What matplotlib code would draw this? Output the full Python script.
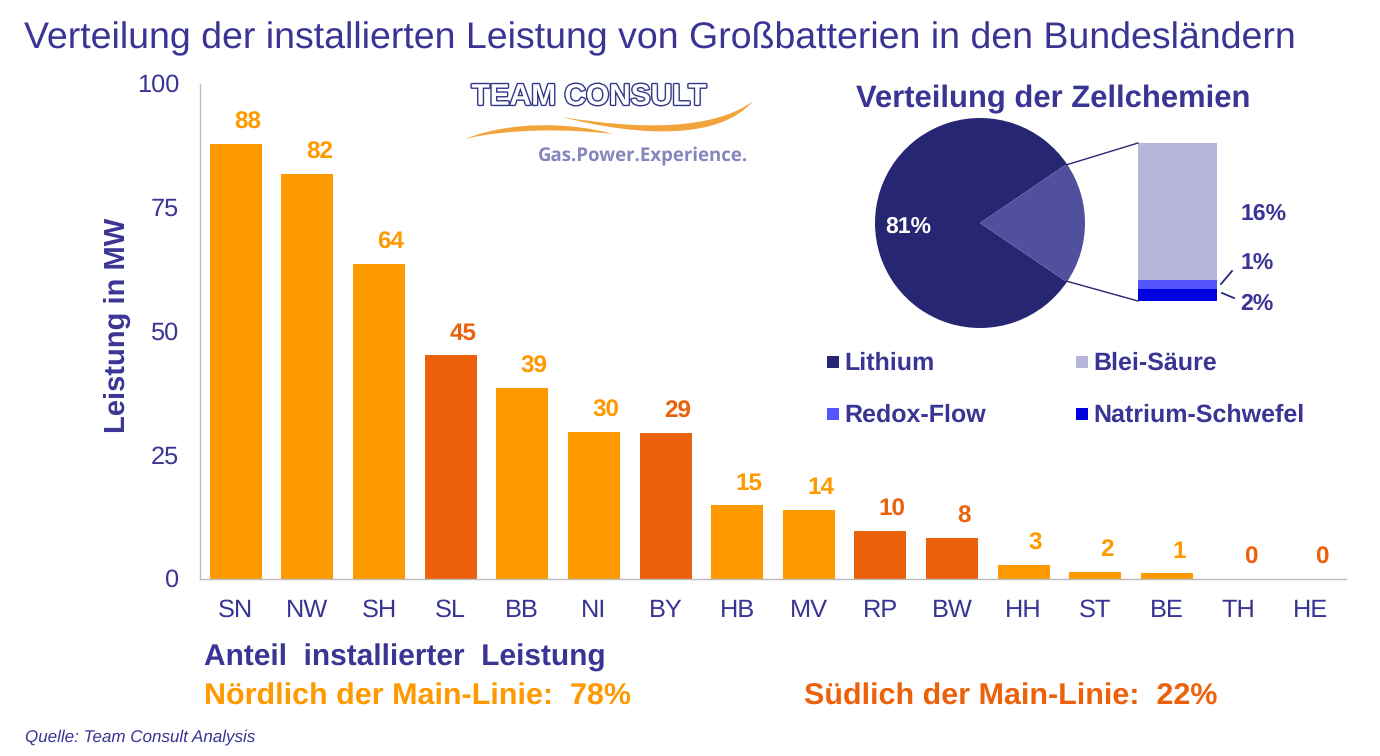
import matplotlib
matplotlib.use("Agg")
import matplotlib.pyplot as plt
import matplotlib.patheffects as pe
from matplotlib.path import Path
from matplotlib.patches import PathPatch
from matplotlib.lines import Line2D
from matplotlib.patches import Rectangle
from matplotlib.transforms import ScaledTranslation

plt.rcParams['font.family'] = ['Liberation Sans', 'DejaVu Sans']
plt.rcParams['text.hinting'] = 'no_hinting'
plt.rcParams['text.hinting_factor'] = 8

W, H = 1380, 756
NAVY = '#3A3594'
DARK = '#262673'
ORANGE = '#FF9900'
RUST = '#EC610B'

states = ['SN', 'NW', 'SH', 'SL', 'BB', 'NI', 'BY', 'HB', 'MV', 'RP', 'BW', 'HH', 'ST', 'BE', 'TH', 'HE']
heights = [87.8, 81.8, 63.7, 45.2, 38.6, 29.6, 29.4, 15.0, 14.0, 9.7, 8.2, 2.8, 1.5, 1.2, 0, 0]
labels = ['88', '82', '64', '45', '39', '30', '29', '15', '14', '10', '8', '3', '2', '1', '0', '0']
south = ['SL', 'BY', 'RP', 'BW', 'TH', 'HE']
y_ticks = [0, 25, 50, 75, 100]

pie_values = [81, 19]
pie_colors = [DARK, '#50509F']
stack_names = ['Natrium-Schwefel', 'Redox-Flow', 'Blei-Säure']
stack_values = [1.5, 1.0, 16.5]
stack_colors = ['#0000E0', '#5555FF', '#B6B5DA']
stack_labels = ['2%', '1%', '16%']


def px_axes(fig, x0, y0, x1, y1):
    return fig.add_axes([x0 / W, 1 - y1 / H, (x1 - x0) / W, (y1 - y0) / H])


fig = plt.figure(figsize=(W / 100, H / 100), dpi=100, facecolor='white')


def ftext(x, y, s, **kw):
    kw.setdefault('va', 'center')
    return fig.text(x / W, 1 - (y + 2) / H, s, **kw)


def fcurve(points, codes, color):
    verts = [(x / W, 1 - y / H) for x, y in points]
    fig.add_artist(PathPatch(Path(verts, codes), transform=fig.transFigure, fc=color, ec='none'))


# main bars
ax = px_axes(fig, 200, 84, 1346, 579)
xs = range(len(states))
colors = [RUST if s in south else ORANGE for s in states]
ax.bar(xs, heights, width=0.725, color=colors, zorder=2)
ax.set_xlim(-0.5, len(states) - 0.5)
ax.set_ylim(0, 100)
ax.set_xticks(list(xs), states)
ax.set_yticks(y_ticks)
ax.tick_params(axis='both', length=0, labelsize=18.3, colors=NAVY)
ax.tick_params(axis='x', pad=14.5)
ax.tick_params(axis='y', pad=15)
lift = ScaledTranslation(0, 1 / 100, fig.dpi_scale_trans)
for lab in ax.get_yticklabels():
    lab.set_transform(lab.get_transform() + lift)
for s in ('top', 'right'):
    ax.spines[s].set_visible(False)
for s in ('left', 'bottom'):
    ax.spines[s].set_color('#BBBBBB')
    ax.spines[s].set_linewidth(1)
ax.set_ylabel('Leistung in MW', fontsize=21, fontweight='bold', color=NAVY, labelpad=0)
ax.yaxis.set_label_coords(-0.06, 0.513)
for x, h, t, c in zip(xs, heights, labels, colors):
    ax.annotate(t, (x, h), xytext=(8.6, 15.5), textcoords='offset points', ha='center', va='center',
                fontsize=17.5, fontweight='bold', color=c, zorder=3)

# title and notes
ftext(24, 37, 'Verteilung der installierten Leistung von Großbatterien in den Bundesländern',
      fontsize=26.97, color=NAVY)
ftext(204, 656, 'Anteil  installierter  Leistung', fontsize=21.47, fontweight='bold', color=NAVY)
ftext(204, 695, 'Nördlich der Main-Linie:  78%', fontsize=21.95, fontweight='bold', color=ORANGE)
ftext(804, 695, 'Südlich der Main-Linie:  22%', fontsize=21.95, fontweight='bold', color=RUST)
ftext(25, 735, 'Quelle: Team Consult Analysis', fontsize=12.25, style='italic', color=NAVY)

# pie
pax = px_axes(fig, 875, 118, 1085, 328)
pax.pie(pie_values, colors=pie_colors, startangle=34.2, counterclock=True, radius=1,
        wedgeprops=dict(linewidth=0))
pax.set_xlim(-1, 1)
pax.set_ylim(-1, 1)
ftext(1053, 97, 'Verteilung der Zellchemien', fontsize=22.3, fontweight='bold', color=NAVY, ha='center')
ftext(908, 225, '81%', fontsize=16.6, fontweight='bold', color='white', ha='center')

# stacked column
sax = px_axes(fig, 1138, 143, 1217, 301)
bottom = 0
for v, c in zip(stack_values, stack_colors):
    sax.bar(0, v, bottom=bottom, width=1, color=c)
    bottom += v
sax.set_xlim(-0.5, 0.5)
sax.set_ylim(0, bottom)
sax.axis('off')

for (x0, y0, x1, y1, lw) in [(1066, 165, 1138, 143, 1), (1066, 281, 1138, 301, 1),
                             (1221, 284, 1232, 271, 1.3), (1222, 293, 1234, 298, 1.3)]:
    fig.add_artist(Line2D([x0 / W, x1 / W], [1 - y0 / H, 1 - y1 / H], color=DARK, lw=lw))
for y, t in zip([302, 261, 212], stack_labels):
    ftext(1240.5, y, t, fontsize=16.6, fontweight='bold', color=NAVY)

# legend
items = [('Lithium', DARK, 827, 362), ('Blei-Säure', stack_colors[2], 1076, 362),
         ('Redox-Flow', stack_colors[1], 827, 414), ('Natrium-Schwefel', stack_colors[0], 1076, 414)]
for name, c, x, y in items:
    fig.add_artist(Rectangle((x / W, 1 - (y + 6) / H), 12 / W, 12 / H, transform=fig.transFigure, fc=c, ec='none'))
    ftext(x + 17, y - 1, name, fontsize=18, fontweight='bold', color=NAVY)

# logo
ftext(589, 95, 'TEAM CONSULT', fontsize=21.5, fontweight='bold', color='white', ha='center',
      path_effects=[pe.withStroke(linewidth=2, foreground='#33358A')])
ftext(643, 155, 'Gas.Power.Experience.', fontsize=13.4, fontweight='bold', color='#8587BC', ha='center',
      family=['Open Sans'])
C = Path.CURVE4
fcurve([(562, 117), (640, 130), (715, 130), (753, 101), (720, 140), (640, 137), (562, 117)],
       [Path.MOVETO, C, C, C, C, C, C], '#F2A33A')
fcurve([(465, 139), (510, 121), (570, 122), (613, 134), (570, 129), (510, 128), (465, 139)],
       [Path.MOVETO, C, C, C, C, C, C], '#F2A33A')

fig.savefig('out.png', dpi=100)
